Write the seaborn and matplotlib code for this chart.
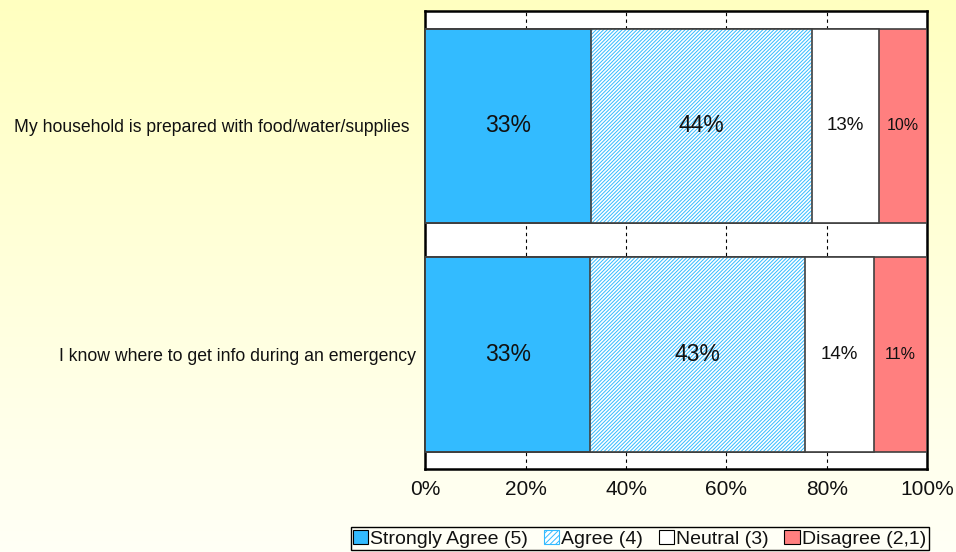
import numpy as np
import pandas as pd
import matplotlib
matplotlib.use("Agg")
import matplotlib.pyplot as plt
import matplotlib.patches as mpatches
import seaborn as sns

# Data (percent of respondents)
questions = ["My household is prepared with food/water/supplies",
             "I know where to get info during an emergency"]
levels = ["Strongly Agree (5)", "Agree (4)", "Neutral (3)", "Disagree (2,1)"]
strongly_agree = [33.1, 32.8]
agree = [43.9, 42.9]
neutral = [13.4, 13.7]
disagree = [9.6, 10.6]
value_labels = [["33%", "44%", "13%", "10%"],
                ["33%", "43%", "14%", "11%"]]

colors = ["#33bbff", "#ffffff", "#ffffff", "#ff7f7f"]
hatch_blue = "#33bbff"
edge = "#404040"
label_sizes = [16.5, 16.5, 13.5, 11.5]

sns.set_theme(style="white")
plt.rcParams['font.family'] = ['Liberation Sans', 'DejaVu Sans']
plt.rcParams['hatch.linewidth'] = 0.7

df = pd.DataFrame({"question": questions,
                   levels[0]: strongly_agree, levels[1]: agree,
                   levels[2]: neutral, levels[3]: disagree})
vals = df[levels].to_numpy()
cum = vals.cumsum(axis=1)

fig = plt.figure(figsize=(9.56, 5.52), dpi=100)

# yellow gradient background
bg = fig.add_axes([0, 0, 1, 1], zorder=-10)
grad = np.linspace(0, 1, 256).reshape(-1, 1)
bg_cmap = matplotlib.colors.LinearSegmentedColormap.from_list("bg", ["#ffffc0", "#fffff6"])
bg.imshow(grad, aspect="auto", cmap=bg_cmap, extent=[0, 1, 0, 1])
bg.set_axis_off()

ax = fig.add_axes([0.445, 0.1504, 0.5247, 0.829])
ax.set_facecolor("white")

# stacked bars: draw cumulative totals from the right-most segment backwards
for i in range(len(levels) - 1, -1, -1):
    tmp = pd.DataFrame({"question": questions, "cum": cum[:, i]})
    sns.barplot(data=tmp, x="cum", y="question", orient="h", order=questions,
                color=colors[i], saturation=1, width=0.85,
                edgecolor=edge, linewidth=1.2, ax=ax, zorder=3)
    if i == 1:
        # hatched "Agree" segment: blue hatch, then a gray outline on top
        for p in ax.containers[-1]:
            p.set_hatch("/////////")
            p.set_edgecolor(hatch_blue)
            p.set_linewidth(0)
            outline = mpatches.Rectangle(p.get_xy(), p.get_width(), p.get_height(),
                                         fill=False, edgecolor=edge, linewidth=1.2,
                                         zorder=3.1)
            ax.add_patch(outline)

# value labels in the segment centres
for r in range(len(questions)):
    for i in range(len(levels)):
        ax.text(cum[r, i] - vals[r, i] / 2, r, value_labels[r][i],
                ha="center", va="center", fontsize=label_sizes[i],
                color="#111111", zorder=5)

ax.set_xlim(0, 100)
ax.set_ylim(1.5, -0.5)
ax.set_xticks([0, 20, 40, 60, 80, 100])
ax.set_xticklabels(["0%", "20%", "40%", "60%", "80%", "100%"], fontsize=15, color="#111111")
ax.tick_params(axis="x", length=0, pad=8)
ax.tick_params(axis="y", length=0, labelsize=12.7, labelcolor="#111111")
ticks = ax.yaxis.get_major_ticks()
ticks[0].set_pad(11.5)
ticks[1].set_pad(6.5)
ax.set_xlabel("")
ax.set_ylabel("")
ax.grid(axis="x", color="black", linestyle=(0, (3, 3)), linewidth=0.8, zorder=0)
ax.set_axisbelow(True)
for s in ax.spines.values():
    s.set_visible(True)
    s.set_color("black")
    s.set_linewidth(1.8)

# legend
handles = [
    mpatches.Patch(facecolor=colors[0], edgecolor="black", linewidth=0.8, label=levels[0]),
    mpatches.Patch(facecolor="white", edgecolor=hatch_blue, hatch="//////", linewidth=0.8, label=levels[1]),
    mpatches.Patch(facecolor="white", edgecolor="black", linewidth=0.8, label=levels[2]),
    mpatches.Patch(facecolor=colors[3], edgecolor="black", linewidth=0.8, label=levels[3]),
]
leg = fig.legend(handles=handles, loc="lower center", bbox_to_anchor=(0.669, 0.0),
                 ncol=4, fontsize=14, frameon=True, fancybox=False,
                 handlelength=0.8, handleheight=0.8, handletextpad=0.1,
                 columnspacing=0.8, borderpad=0.12, borderaxespad=0.1)
leg.get_frame().set_edgecolor("black")
leg.get_frame().set_linewidth(1.0)
leg.get_frame().set_facecolor("#fffff6")
leg.get_frame().set_alpha(1)
for t in leg.get_texts():
    t.set_color("#111111")

plt.savefig("out.png", dpi=100)
